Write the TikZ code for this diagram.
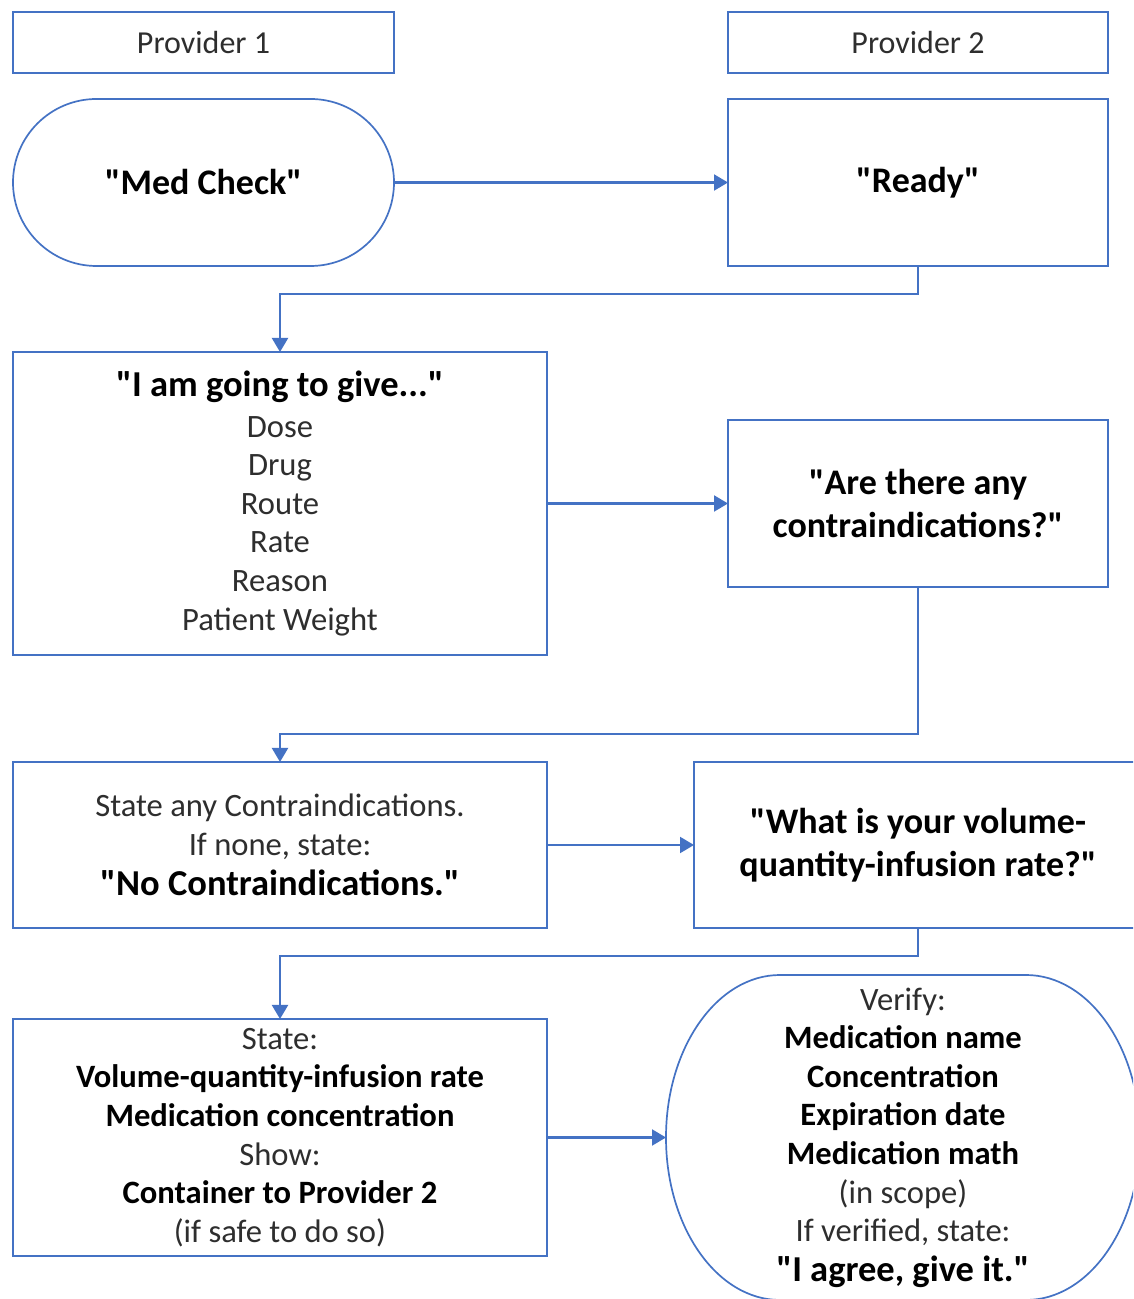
\documentclass[tikz,border=0pt]{standalone}
\usepackage{fontspec}
\setmainfont{Carlito}[Ligatures=TeXOff]
\usetikzlibrary{arrows.meta}
\definecolor{lineblue}{HTML}{4472C4}
\definecolor{txtgray}{HTML}{2E2E2E}
\newcommand\bln[1]{{\color{black}\bfseries #1}}
\newcommand\bigln[1]{{\color{black}\bfseries\fontsize{36.5}{42}\selectfont #1}}
\tikzset{
  box/.style={draw=lineblue, line width=1.7pt, inner sep=0pt, outer sep=0pt, align=center, text=txtgray, font=\fontsize{32.6}{38.6}\selectfont},
  bigfont/.style={font=\fontsize{36}{43.5}\selectfont},
  conn/.style={draw=lineblue, line width=2.1pt, -{Triangle[length=14pt,width=16pt]}},
  outline/.style={draw=lineblue, line width=1.7pt}
}
\begin{document}
\begin{tikzpicture}[x=1pt,y=1pt]
\useasboundingbox (0,0) rectangle (1133,1299);
\clip (0,0) rectangle (1133,1299);
\fill[white] (0,0) rectangle (1133,1299);

\node[box, minimum width=381pt, minimum height=61pt, font=\fontsize{32}{38}\selectfont] (p1) at (203.5,1256.5) {Provider 1};
\node[box, minimum width=380pt, minimum height=61pt, font=\fontsize{32}{38}\selectfont] (p2) at (918,1256.5) {Provider 2};

\node[box, bigfont, minimum width=381pt, minimum height=167pt, rounded corners=83.5pt] (med) at (203.5,1116.5) {\bln{"Med Check"}};
\node[box, bigfont, minimum width=380pt, minimum height=167pt] (ready) at (918,1116.5) {\bln{"Ready"}};

\node[box, minimum width=534pt, minimum height=303pt] (give) at (280,795.5)
  {\bigln{"I am going to give..."}\\[1.5pt]Dose\\Drug\\Route\\Rate\\Reason\\Patient Weight};
\node[box, bigfont, minimum width=380pt, minimum height=167pt] (contra) at (918,795.5)
  {\bln{"Are there any}\\\bln{contraindications?"}};

\node[box, minimum width=534pt, minimum height=166pt] (state) at (280,454)
  {State any Contraindications.\\If none, state:\\[1.5pt]\bigln{"No Contraindications."}};
\node[box, bigfont, minimum width=448pt, minimum height=166pt] (what) at (918,454)
  {\bln{"What is your volume-}\\\bln{quantity-infusion rate?"}};

\node[box, minimum width=534pt, minimum height=237pt] (show) at (280,161.5)
  {State:\\\bln{Volume-quantity-infusion rate}\\\bln{Medication concentration}\\Show:\\\bln{Container to Provider 2}\\(if safe to do so)};

\draw[outline] (780,324) -- (1026,324)
  arc[start angle=90, end angle=-90, x radius=114pt, y radius=162.5pt]
  -- (780,-1)
  arc[start angle=270, end angle=90, x radius=114pt, y radius=162.5pt] -- cycle;
\node[box, draw=none, minimum width=474pt, minimum height=325pt] (ver) at (903,161.5)
  {Verify:\\\bln{Medication name}\\\bln{Concentration}\\\bln{Expiration date}\\\bln{Medication math}\\(in scope)\\If verified, state:\\[1pt]\bigln{"I agree, give it."}};

\draw[conn] (med.east) -- (ready.west);
\draw[conn] (ready.south) -- ++(0,-28) -| (give.north);
\draw[conn] (give.east) -- (contra.west);
\draw[conn] (contra.south) -- ++(0,-147) -| (state.north);
\draw[conn] (state.east) -- (what.west);
\draw[conn] (what.south) -- ++(0,-28) -| (show.north);
\draw[conn] (show.east) -- (ver.west);
\end{tikzpicture}
\end{document}
